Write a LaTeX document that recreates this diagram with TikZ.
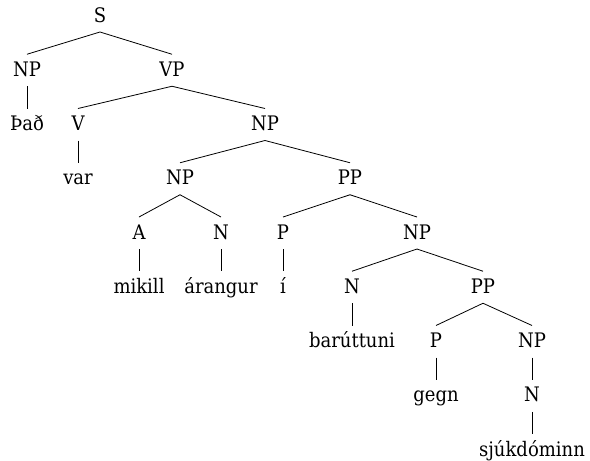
\documentclass[tikz,border=0pt]{standalone}
\usepackage{fontspec}
\setmainfont{DejaVu Serif Condensed}
\begin{document}
\begin{tikzpicture}[x=1pt,y=1pt,
  lab/.style={anchor=base,inner sep=0pt,outer sep=0pt,text height=22pt,text depth=10pt,font=\fontsize{20}{22}\selectfont},
  edge/.style={line width=0.8pt}]
\useasboundingbox (0,0) rectangle (590,-461);
% row 0
\node[lab] (S) at (100,-22) {S};
% row 1
\node[lab] (np1) at (27,-76.25) {NP};
\node[lab] (vp1) at (172,-76.25) {VP};
% row 2
\node[lab] (thad) at (27,-130.5) {Það};
\node[lab] (v1) at (78,-130.5) {V};
\node[lab] (np2) at (265,-130.5) {NP};
% row 3
\node[lab] (var) at (78,-184.75) {var};
\node[lab] (np3) at (180,-184.75) {NP};
\node[lab] (pp1) at (350,-184.75) {PP};
% row 4
\node[lab] (a1) at (139,-239) {A};
\node[lab] (n1) at (221,-239) {N};
\node[lab] (p1) at (283,-239) {P};
\node[lab] (np4) at (417,-239) {NP};
% row 5
\node[lab] (mikill) at (139,-293.25) {mikill};
\node[lab] (arangur) at (221,-293.25) {árangur};
\node[lab] (i1) at (283,-293.25) {í};
\node[lab] (n2) at (352,-293.25) {N};
\node[lab] (pp2) at (483,-293.25) {PP};
% row 6
\node[lab] (barut) at (352,-347.5) {barúttuni};
\node[lab] (p2) at (436,-347.5) {P};
\node[lab] (np5) at (532,-347.5) {NP};
% row 7
\node[lab] (gegn) at (436,-401.75) {gegn};
\node[lab] (n3) at (532,-401.75) {N};
% row 8
\node[lab] (sjuk) at (532,-456) {sjúkdóminn};
% edges
\foreach \p/\c in {S/np1,S/vp1,np1/thad,vp1/v1,vp1/np2,v1/var,np2/np3,np2/pp1,
  np3/a1,np3/n1,pp1/p1,pp1/np4,a1/mikill,n1/arangur,p1/i1,np4/n2,np4/pp2,
  n2/barut,pp2/p2,pp2/np5,p2/gegn,np5/n3,n3/sjuk}
  \draw[edge] (\p.south) -- (\c.north);
\end{tikzpicture}
\end{document}
